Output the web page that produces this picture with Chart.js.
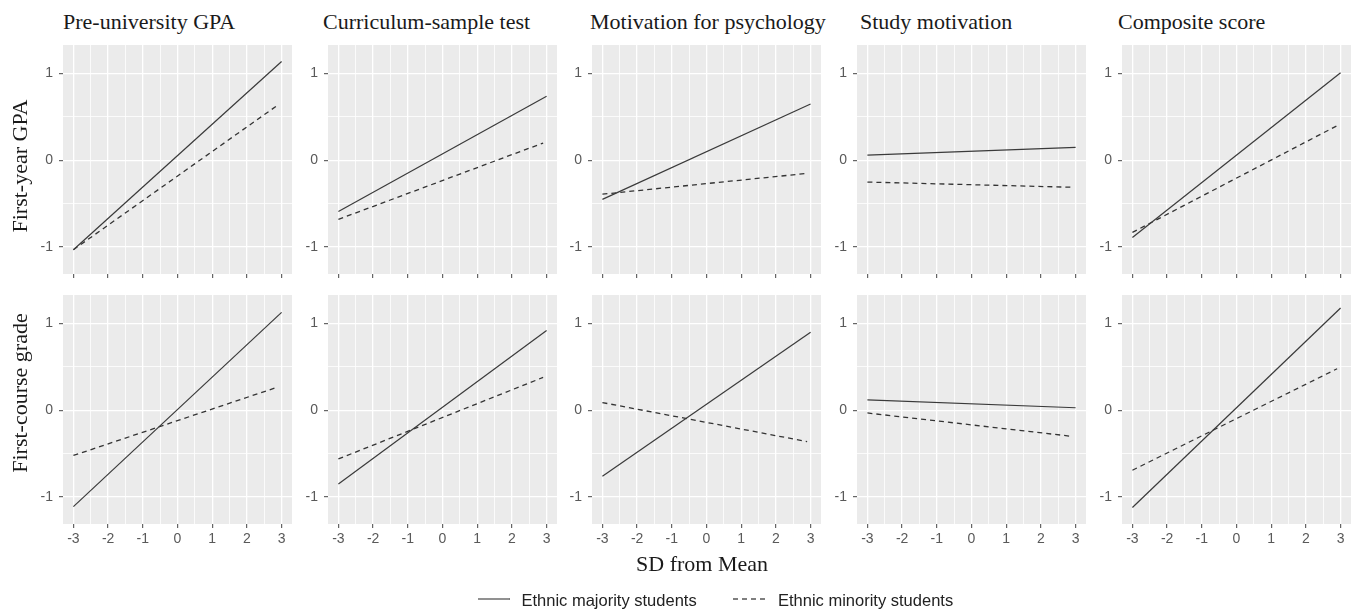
<!DOCTYPE html>
<html><head><meta charset="utf-8">
<script src="https://cdn.jsdelivr.net/npm/chart.js@4.4.1/dist/chart.umd.min.js"></script>
<style>
html,body{margin:0;padding:0;background:#fff;width:1354px;height:612px;overflow:hidden;}
#root{position:relative;width:1354px;height:612px;}
canvas{position:absolute;}
.serif{position:absolute;font-family:'Liberation Serif','Times New Roman',serif;font-size:22px;line-height:22px;color:#1a1a1a;white-space:nowrap;}
.rot{transform:translate(-50%,-50%) rotate(-90deg);}
.leg{position:absolute;font-family:'Liberation Sans',Arial,sans-serif;font-size:16.5px;line-height:16px;color:#222;white-space:nowrap;}
svg{position:absolute;overflow:visible;}
</style></head><body>
<div id="root"></div>
<script>
// ---- data ----
const predictors = ['Pre-university GPA', 'Curriculum-sample test', 'Motivation for psychology', 'Study motivation', 'Composite score'];
const outcomes = ['First-year GPA', 'First-course grade'];
const seriesNames = ['Ethnic majority students', 'Ethnic minority students'];
const xMajority = [-3, 3];
const xMinority = [-3, 2.9];
const gpaMajority   = [[-1.03, 1.14], [-0.59, 0.74], [-0.45, 0.65], [0.06, 0.15], [-0.89, 1.01]];
const gpaMinority   = [[-1.03, 0.64], [-0.68, 0.20], [-0.39, -0.15], [-0.25, -0.31], [-0.83, 0.40]];
const gradeMajority = [[-1.11, 1.13], [-0.85, 0.92], [-0.76, 0.90], [0.12, 0.03], [-1.12, 1.18]];
const gradeMinority = [[-0.52, 0.27], [-0.56, 0.38], [0.09, -0.36], [-0.03, -0.30], [-0.69, 0.48]];
const xTickLabels = [-3, -2, -1, 0, 1, 2, 3];
const yTickLabels = [-1, 0, 1];
const xRange = [-3.3, 3.3];
const yRange = [-1.31, 1.33];

// ---- layout ----
const root = document.getElementById('root');
const colLefts = [63, 328, 592, 857, 1122];
const rowTops = [45, 295];
const titleLefts = [63, 323, 590, 860, 1118];
const PW = 229, PH = 229, YAW = 40;

const bgPlugin = {
  id: 'panelBg',
  beforeDraw(chart) {
    const a = chart.chartArea, c = chart.ctx;
    c.save(); c.fillStyle = '#ebebeb';
    c.fillRect(a.left, a.top, a.right - a.left, a.bottom - a.top);
    c.restore();
  }
};

function isMajor(v, list) { return list.some(t => Math.abs(t - v) < 1e-9); }

function makePanel(row, col) {
  const maj = row === 0 ? gpaMajority[col] : gradeMajority[col];
  const min = row === 0 ? gpaMinority[col] : gradeMinority[col];
  const xh = row === 0 ? 8 : 30;
  const cv = document.createElement('canvas');
  const w = YAW + PW, h = PH + xh;
  cv.width = w; cv.height = h;
  cv.style.left = (colLefts[col] - YAW) + 'px';
  cv.style.top = rowTops[row] + 'px';
  cv.style.width = w + 'px'; cv.style.height = h + 'px';
  root.appendChild(cv);
  const tickFont = {family: "'Liberation Sans', Arial, sans-serif", size: 14};
  new Chart(cv, {
    type: 'line',
    data: {
      datasets: [
        {label: seriesNames[0], data: xMajority.map((x, i) => ({x, y: maj[i]})),
         borderColor: '#3a3a3a', borderWidth: 1.2, pointRadius: 0, tension: 0, fill: false},
        {label: seriesNames[1], data: xMinority.map((x, i) => ({x, y: min[i]})),
         borderColor: '#333333', borderWidth: 1.3, borderDash: [5, 4], pointRadius: 0, tension: 0, fill: false}
      ]
    },
    options: {
      responsive: false, animation: false, devicePixelRatio: 1,
      layout: {padding: 0, autoPadding: false},
      plugins: {legend: {display: false}, tooltip: {enabled: false}, title: {display: false}},
      events: [],
      scales: {
        x: {
          type: 'linear', min: xRange[0], max: xRange[1],
          afterFit: s => { s.height = xh; s.paddingLeft = 0; s.paddingRight = 0; s.paddingTop = 0; s.paddingBottom = 0; },
          border: {display: false},
          grid: {
            color: '#ffffff',
            lineWidth: c => isMajor(c.tick.value, xTickLabels) ? 1.3 : 0.8,
            tickLength: 4,
            tickColor: c => isMajor(c.tick.value, xTickLabels) ? '#555555' : 'rgba(0,0,0,0)',
            tickWidth: 1.1
          },
          ticks: {
            stepSize: 0.5, includeBounds: false, autoSkip: false, maxRotation: 0, minRotation: 0,
            padding: 3, color: '#595959', font: tickFont,
            callback: v => (row === 1 && isMajor(v, xTickLabels)) ? String(v) : ''
          }
        },
        y: {
          type: 'linear', min: yRange[0], max: yRange[1],
          afterFit: s => { s.width = YAW; s.paddingLeft = 0; s.paddingRight = 0; s.paddingTop = 0; s.paddingBottom = 0; },
          border: {display: false},
          grid: {
            color: '#ffffff',
            lineWidth: c => isMajor(c.tick.value, yTickLabels) ? 1.3 : 0.8,
            tickLength: 4,
            tickColor: c => isMajor(c.tick.value, yTickLabels) ? '#555555' : 'rgba(0,0,0,0)',
            tickWidth: 1.1
          },
          ticks: {
            stepSize: 0.5, includeBounds: false, autoSkip: false,
            padding: 6, color: '#595959', font: tickFont,
            callback: v => isMajor(v, yTickLabels) ? String(v) : ''
          }
        }
      }
    },
    plugins: [bgPlugin]
  });
}

for (let r = 0; r < 2; r++) for (let c = 0; c < 5; c++) makePanel(r, c);

// ---- text ----
function addDiv(cls, text, styles) {
  const d = document.createElement('div');
  d.className = cls; d.textContent = text;
  Object.assign(d.style, styles);
  root.appendChild(d);
  return d;
}
predictors.forEach((p, i) => addDiv('serif', p, {left: titleLefts[i] + 'px', top: '11px'}));
addDiv('serif rot', outcomes[0], {left: '20.4px', top: '166px'});
addDiv('serif rot', outcomes[1], {left: '20.4px', top: '393px'});
addDiv('serif', 'SD from Mean', {left: '702px', top: '553px', transform: 'translateX(-50%)'});

// legend
function legendKey(x1, x2, y, dashed) {
  const ns = 'http://www.w3.org/2000/svg';
  const s = document.createElementNS(ns, 'svg');
  s.setAttribute('width', x2 - x1); s.setAttribute('height', 4);
  s.style.left = x1 + 'px'; s.style.top = (y - 2) + 'px';
  const l = document.createElementNS(ns, 'line');
  l.setAttribute('x1', 0); l.setAttribute('x2', x2 - x1);
  l.setAttribute('y1', 2); l.setAttribute('y2', 2);
  l.setAttribute('stroke', '#555'); l.setAttribute('stroke-width', '1.3');
  if (dashed) l.setAttribute('stroke-dasharray', '5 4');
  s.appendChild(l); root.appendChild(s);
}
legendKey(478, 510, 598.5, false);
addDiv('leg', seriesNames[0], {left: '521.5px', top: '591.5px'});
legendKey(733, 765, 598.5, true);
addDiv('leg', seriesNames[1], {left: '778px', top: '591.5px'});
</script>
</body></html>
